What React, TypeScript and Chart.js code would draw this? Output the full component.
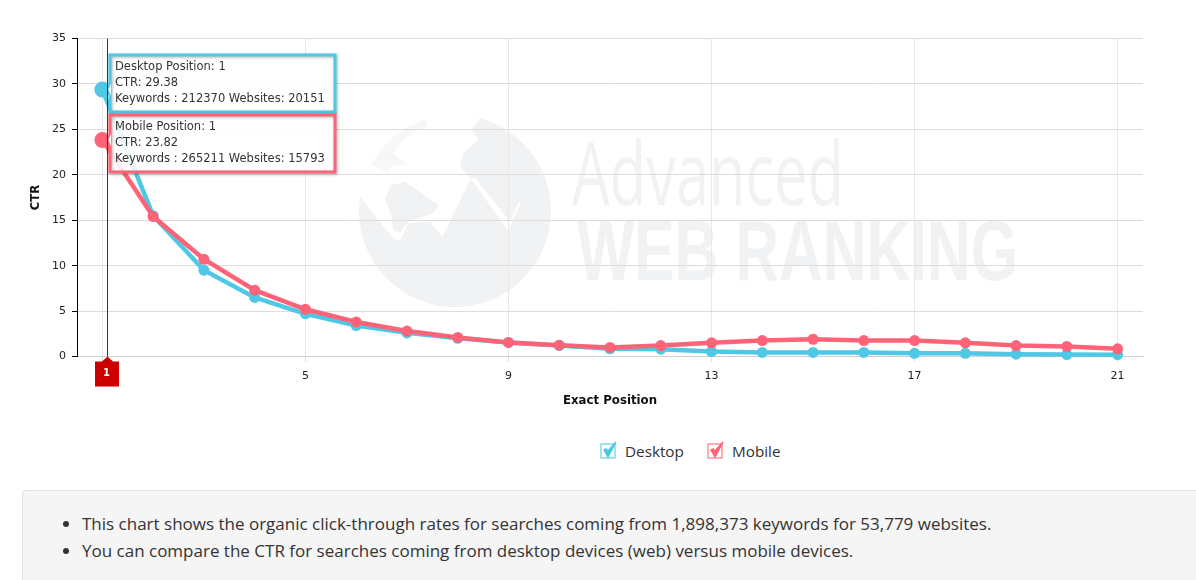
import React, { useEffect, useRef } from 'react';
import { Chart, registerables } from 'chart.js';

Chart.register(...registerables);

const positions = [1, 2, 3, 4, 5, 6, 7, 8, 9, 10, 11, 12, 13, 14, 15, 16, 17, 18, 19, 20, 21];
const desktopCtr = [29.38, 15.5, 9.5, 6.5, 4.7, 3.4, 2.6, 2.0, 1.55, 1.2, 0.85, 0.8, 0.55, 0.45, 0.45, 0.45, 0.35, 0.35, 0.25, 0.22, 0.2];
const mobileCtr = [23.82, 15.4, 10.7, 7.3, 5.2, 3.8, 2.8, 2.1, 1.55, 1.25, 1.0, 1.2, 1.5, 1.75, 1.9, 1.75, 1.75, 1.5, 1.2, 1.1, 0.85];
const xTickValues = [1, 5, 9, 13, 17, 21];
const notes = [
  'This chart shows the organic click-through rates for searches coming from 1,898,373 keywords for 53,779 websites.',
  'You can compare the CTR for searches coming from desktop devices (web) versus mobile devices.',
];
const desktopTooltip = ['Desktop Position: 1', 'CTR: 29.38', 'Keywords : 212370 Websites: 20151'];
const mobileTooltip = ['Mobile Position: 1', 'CTR: 23.82', 'Keywords : 265211 Websites: 15793'];

const BLUE = '#4fc8e6';
const PINK = '#ff6377';
const WATERMARK = '#f1f2f4';
const AXIS_FONT = '"DejaVu Sans", Verdana, sans-serif';

// outlines of the globe in the background, in pixels of a 3x crop starting at 350,110
const ocean = [[20, 245], [85, 330], [135, 390], [150, 392], [175, 340], [240, 335], [278, 380], [362, 205], [330, 170], [340, 130], [385, 90], [365, 60], [390, 25], [390, 0], [0, 0], [0, 245]];
const swoosh = [[362, 205], [475, 362], [515, 270], [505, 280], [480, 335], [375, 205]];
const northAmerica = [[225, 30], [150, 60], [110, 100], [90, 125], [60, 165], [100, 180], [110, 195], [125, 165], [170, 165], [130, 130], [160, 90], [210, 55], [235, 50]];
const southAmerica = [[105, 265], [125, 225], [165, 215], [265, 285], [250, 310], [175, 335], [150, 370], [130, 360], [125, 320]];

const fillShape = (ctx: CanvasRenderingContext2D, pts: number[][], color: string) => {
  ctx.beginPath();
  pts.forEach(([x, y], i) => {
    const px = 350 + x / 3;
    const py = 110 + y / 3;
    if (i === 0) ctx.moveTo(px, py);
    else ctx.lineTo(px, py);
  });
  ctx.closePath();
  ctx.fillStyle = color;
  ctx.fill();
};

// squeeze a text into a given box
const fitText = (ctx: CanvasRenderingContext2D, text: string, font: string, left: number, right: number, baseline: number) => {
  ctx.save();
  ctx.font = font;
  ctx.fillStyle = WATERMARK;
  ctx.textAlign = 'left';
  ctx.textBaseline = 'alphabetic';
  const w = ctx.measureText(text).width;
  ctx.translate(left, baseline);
  ctx.scale((right - left) / w, 1);
  ctx.fillText(text, 0, 0);
  ctx.restore();
};

const watermarkPlugin = {
  id: 'watermark',
  beforeDraw(chart: Chart) {
    const ctx = chart.ctx;
    ctx.save();
    ctx.beginPath();
    ctx.arc(455, 211, 96, 0, Math.PI * 2);
    ctx.fillStyle = WATERMARK;
    ctx.fill();
    ctx.clip();
    fillShape(ctx, ocean, '#ffffff');
    fillShape(ctx, swoosh, '#ffffff');
    fillShape(ctx, northAmerica, '#f6f7f8');
    fillShape(ctx, southAmerica, WATERMARK);
    ctx.restore();
    fitText(ctx, 'Advanced', '400 88px "Open Sans"', 572, 844, 205);
    fitText(ctx, 'WEB RANKING', 'bold 86px "Liberation Sans"', 577, 1018, 280);
  },
};

const drawTooltip = (chart: Chart, value: number, top: number, color: string, lines: string[]) => {
  const ctx = chart.ctx;
  const pointX = chart.scales.x.getPixelForValue(1);
  const pointY = chart.scales.y.getPixelForValue(value);
  const left = 110;
  const width = 225;
  const height = 57;
  ctx.save();
  ctx.fillStyle = 'rgba(255,255,255,0.88)';
  ctx.fillRect(left, top, width, height);
  ctx.shadowColor = 'rgba(0,0,0,0.3)';
  ctx.shadowBlur = 3;
  ctx.shadowOffsetX = 1;
  ctx.shadowOffsetY = 1;
  ctx.strokeStyle = color;
  ctx.lineWidth = 3;
  ctx.strokeRect(left, top, width, height);
  ctx.shadowColor = 'transparent';
  // small arrow towards the point
  ctx.beginPath();
  ctx.moveTo(left + 1, pointY - 6);
  ctx.lineTo(pointX + 6, pointY);
  ctx.lineTo(left + 1, pointY + 6);
  ctx.closePath();
  ctx.fillStyle = '#ffffff';
  ctx.fill();
  ctx.font = `11.5px ${AXIS_FONT}`;
  ctx.fillStyle = '#333333';
  ctx.textAlign = 'left';
  ctx.textBaseline = 'middle';
  lines.forEach((line, i) => ctx.fillText(line, 115, top + 12 + i * 16));
  ctx.restore();
};

const markerPlugin = {
  id: 'marker',
  afterDraw(chart: Chart) {
    const ctx = chart.ctx;
    const { top, bottom } = chart.chartArea;
    const cx = Math.round(chart.scales.x.getPixelForValue(1) + 4.9);
    ctx.save();
    ctx.strokeStyle = '#b80000';
    ctx.lineWidth = 1;
    ctx.beginPath();
    ctx.moveTo(cx + 0.5, top);
    ctx.lineTo(cx + 0.5, bottom);
    ctx.stroke();
    drawTooltip(chart, desktopCtr[0], 55, BLUE, desktopTooltip);
    drawTooltip(chart, mobileCtr[0], 115, PINK, mobileTooltip);
    // flag on the x axis
    ctx.fillStyle = '#cc0000';
    ctx.beginPath();
    ctx.moveTo(cx + 0.5, bottom);
    ctx.lineTo(cx + 6, bottom + 5);
    ctx.lineTo(cx + 12, bottom + 5);
    ctx.lineTo(cx + 12, bottom + 30);
    ctx.lineTo(cx - 12, bottom + 30);
    ctx.lineTo(cx - 12, bottom + 5);
    ctx.lineTo(cx - 5, bottom + 5);
    ctx.closePath();
    ctx.fill();
    ctx.fillStyle = '#ffffff';
    ctx.font = `bold 10px ${AXIS_FONT}`;
    ctx.textAlign = 'center';
    ctx.textBaseline = 'middle';
    ctx.fillText(String(xTickValues[0]), cx - 0.5, bottom + 17);
    ctx.restore();
  },
};

const CheckBox: React.FC<{ color: string; left: number }> = ({ color, left }) => (
  <svg width="18" height="18" viewBox="0 0 18 18" style={{ position: 'absolute', left, top: 441 }}>
    <rect x="1" y="3" width="14" height="14" fill="none" stroke={color} strokeWidth="1.4" opacity="0.75" />
    <path d="M4 9 L8 16 L16 1 L8 10 L6 8 Z" fill={color} stroke={color} strokeWidth="1.5" />
  </svg>
);

const legendText: React.CSSProperties = {
  position: 'absolute',
  top: 440,
  fontSize: 15.25,
  lineHeight: '22px',
  color: '#333',
  fontFamily: '"Open Sans", sans-serif',
};

const App: React.FC = () => {
  const canvasRef = useRef<HTMLCanvasElement | null>(null);

  useEffect(() => {
    const canvas = canvasRef.current;
    if (!canvas) return;

    const radius = (c: any) => (c.dataIndex === 0 ? 8 : 5.5);

    const chart = new Chart(canvas, {
      type: 'line',
      data: {
        labels: positions,
        datasets: [
          {
            label: 'Desktop',
            data: positions.map((p, i) => ({ x: p, y: desktopCtr[i] })),
            borderColor: BLUE,
            backgroundColor: BLUE,
            borderWidth: 4.5,
            pointRadius: radius,
            pointBorderWidth: 0,
            tension: 0,
            clip: false,
            order: 2,
          },
          {
            label: 'Mobile',
            data: positions.map((p, i) => ({ x: p, y: mobileCtr[i] })),
            borderColor: PINK,
            backgroundColor: PINK,
            borderWidth: 4.5,
            pointRadius: radius,
            pointBorderWidth: 0,
            tension: 0,
            clip: false,
            order: 1,
          },
        ],
      },
      options: {
        responsive: false,
        animation: false,
        devicePixelRatio: 1,
        layout: { padding: { left: 29, right: 53, top: 38.5, bottom: 0 } },
        plugins: { legend: { display: false }, tooltip: { enabled: false } },
        scales: {
          x: {
            type: 'linear',
            min: 0.5,
            max: 21.5,
            afterBuildTicks: (axis: any) => {
              axis.ticks = xTickValues.map(value => ({ value }));
            },
            afterFit: (axis: any) => {
              axis.height = 51.5;
            },
            grid: { color: '#e8e8e8', tickColor: '#dddddd', tickLength: 5 },
            border: { color: '#cfcfcf' },
            ticks: {
              color: '#222',
              padding: 8,
              maxRotation: 0,
              autoSkip: false,
              font: { family: AXIS_FONT, size: 11 },
            },
            title: {
              display: true,
              text: 'Exact Position',
              color: '#111',
              font: { family: AXIS_FONT, size: 11.75, weight: 'bold' },
              padding: 0,
            },
          },
          y: {
            min: 0,
            max: 35,
            afterFit: (axis: any) => {
              axis.width = 48;
            },
            grid: { color: '#dcdcdc', tickColor: '#000000', tickLength: 5 },
            border: { color: '#000000' },
            ticks: {
              stepSize: 5,
              color: '#222',
              padding: 6,
              font: { family: AXIS_FONT, size: 11 },
            },
            title: {
              display: true,
              text: 'CTR',
              color: '#111',
              font: { family: AXIS_FONT, size: 11.75, weight: 'bold' },
              padding: 0,
            },
          },
        },
      },
      plugins: [watermarkPlugin, markerPlugin],
    });

    return () => chart.destroy();
  }, []);

  return (
    <div style={{ position: 'absolute', left: 0, top: 0, width: 1196, height: 580, overflow: 'hidden', background: '#fff' }}>
      <canvas ref={canvasRef} width={1196} height={408} style={{ position: 'absolute', left: 0, top: 0 }} />
      <CheckBox color={BLUE} left={600} />
      <span style={{ ...legendText, left: 625 }}>Desktop</span>
      <CheckBox color={PINK} left={707} />
      <span style={{ ...legendText, left: 732 }}>Mobile</span>
      <div
        style={{
          position: 'absolute',
          left: 22,
          top: 490,
          width: 1200,
          height: 120,
          boxSizing: 'border-box',
          background: '#f5f5f5',
          border: '1px solid #e3e3e3',
          borderRadius: 4,
          fontFamily: '"Open Sans", sans-serif',
          fontSize: 17,
          lineHeight: '27px',
          color: '#333',
        }}
      >
        <ul style={{ margin: 0, padding: '19px 0 0 59px' }}>
          {notes.map(note => (
            <li key={note}>{note}</li>
          ))}
        </ul>
      </div>
    </div>
  );
};

export default App;
